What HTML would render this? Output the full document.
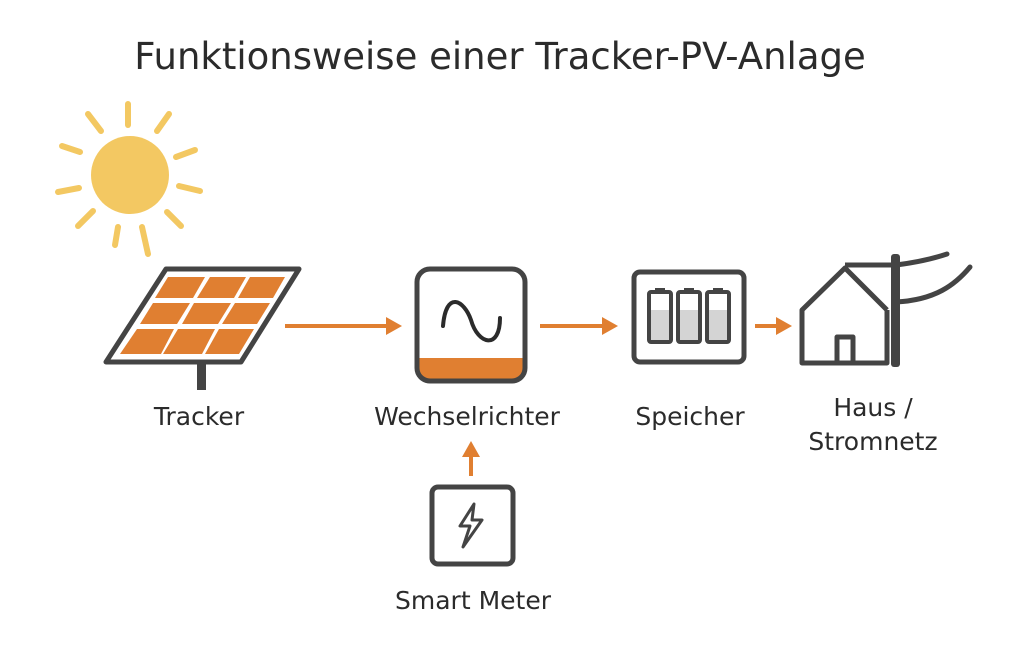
<!DOCTYPE html>
<html><head><meta charset="utf-8"><style>
html,body{margin:0;padding:0;background:#fff;}
svg{display:block;}
text{font-family:"DejaVu Sans","Liberation Sans",sans-serif;fill:#2b2b2b;}
</style></head><body>
<svg width="1024" height="651" viewBox="0 0 1024 651" xmlns="http://www.w3.org/2000/svg">
<rect width="1024" height="651" fill="#fff"/>
<text x="500" y="69" font-size="37" text-anchor="middle">Funktionsweise einer Tracker-PV-Anlage</text>
<!-- sun -->
<circle cx="130" cy="175" r="39" fill="#f3c862"/>
<g stroke="#f3c862" stroke-width="6" stroke-linecap="round">
<line x1="128" y1="125" x2="128" y2="104"/>
<line x1="101" y1="131" x2="88" y2="114"/>
<line x1="157" y1="131" x2="169" y2="114"/>
<line x1="80" y1="152" x2="62" y2="146"/>
<line x1="176" y1="157" x2="195" y2="150"/>
<line x1="79" y1="188" x2="58" y2="192"/>
<line x1="179" y1="186" x2="200" y2="191"/>
<line x1="93" y1="211" x2="78" y2="226"/>
<line x1="167" y1="212" x2="181" y2="226"/>
<line x1="118" y1="227" x2="115" y2="245"/>
<line x1="142" y1="227" x2="148" y2="254"/>
</g>
<!-- panel -->
<rect x="197" y="362" width="9" height="28" fill="#444"/>
<polygon points="166,269 299,269 241,362 106,362" fill="#fff" stroke="#444" stroke-width="5" stroke-linejoin="round"/>
<g fill="#e07f31">
<polygon points="168,277 205,277 193,298 155,298"/>
<polygon points="210,277 246,277 234,298 197,298"/>
<polygon points="250,277 285,277 273,298 238,298"/>
<polygon points="153,303 190,303 177,324 140,324"/>
<polygon points="194,303 231,303 218,324 182,324"/>
<polygon points="235,303 270,303 257,324 222,324"/>
<polygon points="137,329 174,329 161,354 120,354"/>
<polygon points="178,329 215,329 202,354 163,354"/>
<polygon points="219,329 254,329 239,354 205,354"/>
</g>
<!-- arrows -->
<g stroke="#e07f31" stroke-width="4">
<line x1="285" y1="326" x2="388" y2="326"/>
<line x1="540" y1="326" x2="604" y2="326"/>
<line x1="755" y1="326" x2="778" y2="326"/>
<line x1="471" y1="476" x2="471" y2="455"/>
</g>
<g fill="#e07f31">
<polygon points="386,317 402,326 386,335"/>
<polygon points="602,317 618,326 602,335"/>
<polygon points="776,317 792,326 776,335"/>
<polygon points="462,457 471,441 480,457"/>
</g>
<!-- inverter -->
<path d="M417,358 H525 V369 a12,12 0 0 1 -12,12 H429 a12,12 0 0 1 -12,-12 Z" fill="#e07f31"/>
<rect x="417" y="269" width="108" height="112" rx="13" fill="none" stroke="#444" stroke-width="5"/>
<path d="M443,326 C446,290 464,300 471,320 C478,345 500,350 500,318" fill="none" stroke="#2b2b2b" stroke-width="4" stroke-linecap="round"/>
<!-- storage -->
<rect x="634" y="272" width="110" height="90" rx="6" fill="none" stroke="#444" stroke-width="5"/>
<g stroke="#444" stroke-width="4" fill="#d4d4d4">
<rect x="649" y="292" width="22" height="50" rx="2"/>
<rect x="678" y="292" width="22" height="50" rx="2"/>
<rect x="707" y="292" width="22" height="50" rx="2"/>
</g>
<g fill="#fff"><rect x="651" y="294" width="18" height="16"/><rect x="680" y="294" width="18" height="16"/><rect x="709" y="294" width="18" height="16"/></g>
<g fill="#444"><rect x="655" y="288" width="10" height="5"/><rect x="684" y="288" width="10" height="5"/><rect x="713" y="288" width="10" height="5"/></g>
<!-- house -->
<g fill="none" stroke="#444" stroke-width="5" stroke-linejoin="round">
<polyline points="887,310 845,268 802,310 802,363 887,363 887,310"/>
<polyline points="837,363 837,337 853,337 853,363"/>
<line x1="845" y1="265" x2="896" y2="265"/>
<path d="M896,265 C920,262 935,258 947,254" stroke-linecap="round"/>
<path d="M896,302 C935,300 955,285 970,267" stroke-linecap="round"/>
</g>
<rect x="891" y="254" width="9" height="113" rx="3" fill="#444"/>
<!-- smart meter -->
<rect x="432" y="487" width="81" height="77" rx="6" fill="none" stroke="#444" stroke-width="5"/>
<path d="M474,504 L460,526 L470,526 L463,547 L482,520 L472,520 Z" fill="none" stroke="#444" stroke-width="3" stroke-linejoin="round"/>
<!-- labels -->
<g font-size="25" text-anchor="middle">
<text x="199" y="425">Tracker</text>
<text x="467" y="425">Wechselrichter</text>
<text x="690" y="425">Speicher</text>
<text x="873" y="416">Haus /</text>
<text x="873" y="450">Stromnetz</text>
<text x="473" y="609">Smart Meter</text>
</g>
</svg>
</body></html>
